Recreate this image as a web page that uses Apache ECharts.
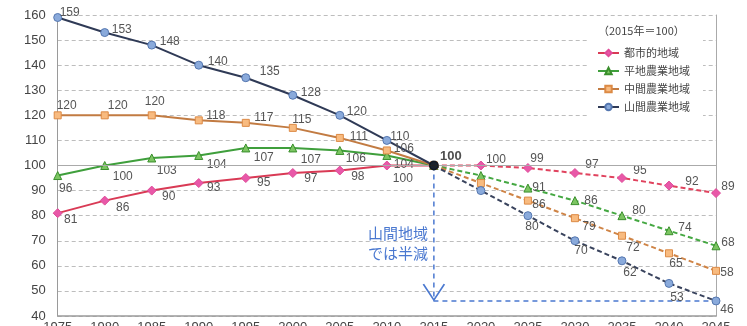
<!DOCTYPE html>
<html>
<head>
<meta charset="utf-8">
<script src="https://cdn.jsdelivr.net/npm/echarts@6/dist/echarts.min.js"></script>
<style>
  html, body { margin: 0; padding: 0; background: #fff; }
  #chart { width: 747px; height: 326px; }
</style>
</head>
<body>
<div id="chart"></div>
<script>
// Population index by region type (2015 = 100)
const years = ['1975','1980','1985','1990','1995','2000','2005','2010','2015','2020','2025','2030','2035','2040','2045'];
const urban     = [81, 86, 90, 93, 95, 97, 98, 100, 100, 100, 99, 97, 95, 92, 89];
const flatFarm  = [96, 100, 103, 104, 107, 107, 106, 104, 100, 96, 91, 86, 80, 74, 68];
const midFarm   = [120, 120, 120, 118, 117, 115, 111, 106, 100, 93, 86, 79, 72, 65, 58];
const mountFarm = [159, 153, 148, 140, 135, 128, 120, 110, 100, 90, 80, 70, 62, 53, 46];
const seriesNames = ['都市的地域', '平地農業地域', '中間農業地域', '山間農業地域'];
const baseYear = '2015';
const baseValue = 100;
const halvedValue = 46;
const lastYear = '2045';
const pastEnd = 8; // index of 2015: observed up to here, projected after

// label placement (pixel nudges from each marker; null = no label)
const labelNudge = {
  urban: [[13,7],[18,7],[17,6],[15,5],[18,5],[18,6],[18,6],[16,13],null,[15,-6],[9,-9],[17,-8],[18,-7],[23,-4],[12,-6]],
  flat:  [[8,13],[18,11],[15,13],[18,9],[18,10],[18,12],[16,8],[17,9],null,null,[11,0],[16,0],[17,-5],[16,-3],[12,-3]],
  mid:   [[9,-10],[13,-10],[3,-14],[17,-5],[18,-5],[9,-8],[19,-1],[17,-2],null,null,[11,4],[14,9],[11,12],[7,10],[11,2]],
  mount: [[12,-5],[17,-3],[18,-3],[19,-3],[24,-6],[18,-3],[17,-4],[13,-4],null,null,[4,11],[6,10],[8,12],[8,14],[11,9]]
};

const styles = {
  urban: { line: '#d93a55', dash: '#e0435e', fill: '#e858a8', border: '#e04c9a', symbol: 'diamond', size: 9 },
  flat:  { line: '#3f9f3c', dash: '#45a842', fill: '#7cc562', border: '#3a8f2c', symbol: 'triangle', size: 8 },
  mid:   { line: '#c27b42', dash: '#cf8446', fill: '#f8bb80', border: '#dc8a45', symbol: 'rect', size: 7 },
  mount: { line: '#2f3a56', dash: '#39435d', fill: '#8aaadb', border: '#5577b0', symbol: 'circle', size: 8 }
};

function buildData(values, nudges, from, to) {
  return values.map((v, i) => {
    if (i < from || i > to) return '-';
    const n = nudges[i];
    return {
      value: v,
      label: n ? { show: true, offset: n } : { show: false }
    };
  });
}

function makeSeries(name, values, key) {
  const st = styles[key];
  const common = {
    name: name,
    type: 'line',
    symbol: st.symbol,
    symbolSize: st.size,
    itemStyle: { color: st.fill, borderColor: st.border, borderWidth: 1 },
    label: {
      position: 'inside',
      align: 'center',
      verticalAlign: 'middle',
      fontSize: 12,
      color: '#555',
      fontFamily: 'Liberation Sans, Arial, sans-serif',
      formatter: p => String(p.value)
    },
    emphasis: { disabled: true },
    z: 3
  };
  return [
    Object.assign({}, common, {
      data: buildData(values, labelNudge[key], 0, pastEnd),
      lineStyle: { color: st.line, width: 2, type: 'solid' }
    }),
    Object.assign({}, common, {
      data: buildData(values, labelNudge[key], pastEnd, years.length - 1),
      lineStyle: { color: st.dash, width: 2, type: [5, 3] }
    })
  ];
}

const chart = echarts.init(document.getElementById('chart'), null, { renderer: 'canvas' });

const option = {
  animation: false,
  backgroundColor: '#fff',
  textStyle: { fontFamily: 'Liberation Sans, Arial, sans-serif' },
  grid: { left: 57.7, right: 31, top: 15, bottom: 10, containLabel: false, outerBoundsMode: 'none' },
  title: {
    text: '（2015年＝100）',
    left: 598,
    top: 25,
    padding: 0,
    textStyle: { fontSize: 11, fontWeight: 'normal', color: '#444', fontFamily: 'Noto Sans CJK JP' }
  },
  legend: {
    data: seriesNames,
    orient: 'vertical',
    left: 597,
    top: 46,
    padding: 0,
    itemWidth: 21,
    itemHeight: 8,
    itemGap: 4,
    textStyle: { fontSize: 11, lineHeight: 14, color: '#444', fontFamily: 'Noto Sans CJK JP' },
    selectedMode: false
  },
  graphic: [
    {
      type: 'rect',
      shape: { x: 587, y: 22, width: 116, height: 100 },
      style: { fill: '#fff' },
      z: 1,
      silent: true
    },
    {
      type: 'text',
      right: 747 - 428,
      top: 223,
      z: 5,
      style: {
        text: '山間地域\nでは半減',
        align: 'right',
        fill: '#4a78d0',
        fontSize: 15,
        lineHeight: 20,
        fontFamily: 'Noto Sans CJK JP'
      }
    }
  ],
  xAxis: {
    type: 'category',
    data: years,
    boundaryGap: false,
    axisLine: { show: true, lineStyle: { color: '#9a9a9a', width: 1.5 } },
    axisTick: { show: false },
    axisLabel: { fontSize: 13, color: '#444', margin: 5 },
    splitLine: { show: false }
  },
  yAxis: [
    {
      type: 'value',
      min: 40,
      max: 160,
      interval: 10,
      axisLine: { show: true, lineStyle: { color: '#9a9a9a', width: 1 } },
      axisTick: { show: false },
      axisLabel: { fontSize: 13, color: '#444', margin: 12 },
      splitLine: { show: true, lineStyle: { color: '#bdbdbd', type: [4, 3], width: 1 } }
    },
    {
      type: 'value',
      min: 40,
      max: 160,
      interval: 10,
      position: 'right',
      axisLine: { show: true, lineStyle: { color: '#aaaaaa', width: 1 } },
      axisTick: { show: false },
      axisLabel: { show: false },
      splitLine: { show: false }
    }
  ],
  series: [
    // solid reference line at the base index
    {
      type: 'line',
      data: [],
      silent: true,
      markLine: {
        silent: true,
        symbol: 'none',
        label: { show: false },
        lineStyle: { color: '#aaaaaa', type: 'solid', width: 1 },
        data: [{ yAxis: baseValue }]
      },
      z: 1
    },
    ...makeSeries(seriesNames[0], urban, 'urban'),
    ...makeSeries(seriesNames[1], flatFarm, 'flat'),
    ...makeSeries(seriesNames[2], midFarm, 'mid'),
    ...makeSeries(seriesNames[3], mountFarm, 'mount'),
    // halving guide: down from the base point, across to the 2045 mountain value
    {
      type: 'line',
      data: [[baseYear, baseValue], [baseYear, halvedValue], [lastYear, halvedValue]],
      symbol: 'none',
      lineStyle: { color: '#4a78d0', width: 1.5, type: [5, 4] },
      silent: true,
      z: 2,
      markPoint: {
        silent: true,
        symbol: 'path://M0,0L10,16L20,0',
        symbolSize: [21, 16],
        symbolOffset: [0, '-55%'],
        symbolKeepAspect: false,
        itemStyle: { color: 'none', borderColor: '#4a78d0', borderWidth: 1.5 },
        label: { show: false },
        data: [{ coord: [baseYear, halvedValue] }]
      }
    },
    // base year point
    {
      type: 'scatter',
      data: [[baseYear, baseValue]],
      symbol: 'circle',
      symbolSize: 10,
      itemStyle: { color: '#000' },
      label: {
        show: true,
        position: 'inside',
        offset: [17, -9],
        fontSize: 13,
        fontWeight: 'bold',
        color: '#222',
        formatter: p => String(p.value[1])
      },
      z: 6,
      silent: true
    }
  ]
};

chart.setOption(option);
</script>
</body>
</html>
